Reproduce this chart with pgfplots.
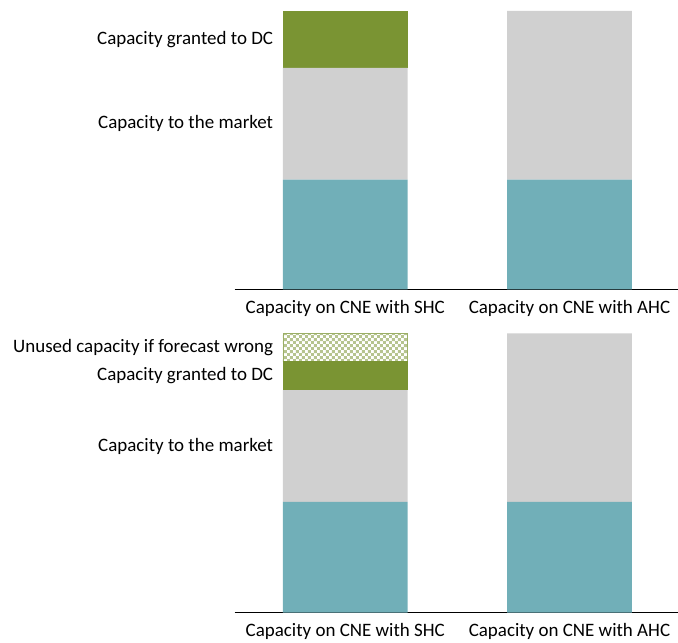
\documentclass[border=0pt]{standalone}
\usepackage{pgfplots}
\pgfplotsset{compat=1.18}
\usepackage{fontspec}
\setmainfont{Carlito}
\usetikzlibrary{patterns}
\definecolor{cteal}{HTML}{71AFB8}
\definecolor{cgray}{HTML}{D0D0D0}
\definecolor{cgreen}{HTML}{7A9433}
\pgfdeclarepatternformonly{finecheck}{\pgfpointorigin}{\pgfqpoint{6pt}{6pt}}{\pgfqpoint{6pt}{6pt}}{%
  \pgfpathrectangle{\pgfpointorigin}{\pgfqpoint{3pt}{3pt}}%
  \pgfpathrectangle{\pgfqpoint{3pt}{3pt}}{\pgfqpoint{3pt}{3pt}}%
  \pgfusepath{fill}}
\pgfplotsset{
  panel/.style={
    scale only axis, width=444pt, height=279pt,
    xmin=-0.5, xmax=1.5, ymin=0,
    axis x line=bottom, axis y line=none,
    x axis line style={-, black, line width=0.8pt},
    xtick={0,1.012}, xticklabels={Capacity on CNE with SHC, Capacity on CNE with AHC},
    major tick length=0pt,
    xticklabel style={font=\fontsize{19}{22}\selectfont, anchor=base, inner sep=0pt, text depth=0pt, yshift=-24pt},
    ybar stacked, bar width=125pt, clip=false,
  },
}
\begin{document}
\begin{tikzpicture}
\begin{axis}[panel, ymax=279, name=top]
\addplot[fill=cteal, draw=none] coordinates {(0,110) (1.012,110)};
\addplot[fill=cgray, draw=none] coordinates {(0,112) (1.012,169)};
\addplot[fill=cgreen, draw=none] coordinates {(0,57) (1.012,0)};
\coordinate (tl) at (rel axis cs:0,1);
\node[anchor=east, font=\fontsize{19}{22}\selectfont] at (axis cs:-0.31,250.5) {Capacity granted to DC};
\node[anchor=east, font=\fontsize{19}{22}\selectfont] at (axis cs:-0.31,166) {Capacity to the market};
\end{axis}
\begin{axis}[panel, ymax=280, height=280pt, at={(0,-324pt)}, anchor=south west]
\addplot[fill=cteal, draw=none] coordinates {(0,111) (1.012,111)};
\addplot[fill=cgray, draw=none] coordinates {(0,112) (1.012,169)};
\addplot[fill=cgreen, draw=none] coordinates {(0,29) (1.012,0)};
\addplot[pattern=finecheck, pattern color=cgreen!55, draw=cgreen!75, line width=0.8pt] coordinates {(0,28) (1.012,0)};
\node[anchor=east, font=\fontsize{19}{22}\selectfont] at (axis cs:-0.31,266) {Unused capacity if forecast wrong};
\node[anchor=east, font=\fontsize{19}{22}\selectfont] at (axis cs:-0.31,237.5) {Capacity granted to DC};
\node[anchor=east, font=\fontsize{19}{22}\selectfont] at (axis cs:-0.31,167) {Capacity to the market};
\end{axis}
\path (tl) ++(-235pt,11pt) rectangle ++(678pt,-644pt);
\end{tikzpicture}
\end{document}
